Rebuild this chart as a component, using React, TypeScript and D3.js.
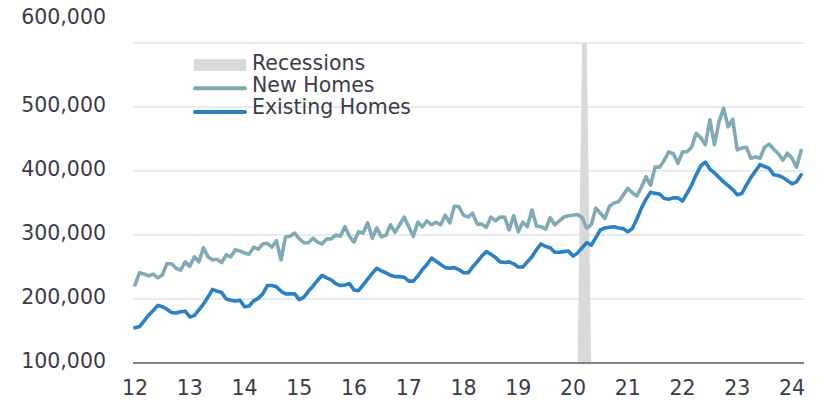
import React from "react";
import * as d3 from "d3";

const START_YEAR = 2012;
const yearTicks = [2012, 2013, 2014, 2015, 2016, 2017, 2018, 2019, 2020, 2021, 2022, 2023, 2024];
const yTicks = [100000, 200000, 300000, 400000, 500000, 600000];

// Monthly values (thousands), Jan 2012 .. Mar 2024
const newHomes = [
  222, 241, 239, 236, 239, 233, 238, 255, 255, 248, 245, 258,
  251, 266, 258, 280, 266, 261, 262, 257, 269, 266, 277, 275,
  272, 270, 281, 278, 286, 287, 281, 291, 261, 297, 298, 303,
  294, 288, 288, 295, 289, 286, 294, 294, 300, 298, 313, 298,
  289, 305, 303, 319, 295, 311, 297, 300, 316, 304, 316, 328,
  313, 298, 320, 313, 322, 316, 320, 316, 331, 319, 345, 344,
  331, 328, 334, 317, 317, 312, 328, 322, 328, 328, 308, 330,
  305, 320, 313, 339, 314, 313, 309, 327, 316, 322, 328, 330,
  331, 332, 327, 311, 316, 342, 334, 326, 345, 350, 352, 362,
  373, 366, 361, 375, 391, 378, 406, 406, 417, 430, 427, 412,
  430, 430, 437, 459, 452, 441, 480, 441, 477, 498, 469, 481,
  433, 436, 437, 420, 422, 420, 437, 442, 434, 427, 417, 428,
  420, 406, 432,
];

const existingHomes = [
  155, 157, 166, 175, 182, 190, 188, 184, 179, 178, 180, 181,
  172, 174, 183, 192, 203, 215, 212, 210, 200, 198, 197, 198,
  188, 189, 197, 201, 208, 221, 221, 219, 212, 208, 208, 208,
  199, 203, 212, 220, 229, 237, 233, 230, 224, 221, 222, 224,
  214, 213, 222, 231, 240, 248, 244, 241, 237, 235, 235, 234,
  228, 228, 236, 246, 254, 264, 259, 254, 249, 248, 249, 246,
  241, 241, 250, 258, 267, 274, 270, 265, 258, 257, 258, 255,
  250, 250, 258, 266, 277, 286, 282, 280, 273, 273, 274, 275,
  267, 272, 280, 288, 284, 296, 308, 311, 312, 313, 311, 310,
  305, 310, 325, 342, 356, 367, 365, 364, 357, 356, 358, 358,
  353, 365, 378, 394, 408, 414, 403, 397, 390, 383, 377, 371,
  363, 365, 378, 390, 400, 410, 407, 404, 394, 393, 390, 385,
  380, 383, 394,
];

// Recession indicator: month index (from Jan 2012) and on/off
const recessionMonths = [97, 98, 99, 100];
const recessionOn = [0, 1, 1, 0];

const legendLabels = ["Recessions", "New Homes", "Existing Homes"];

const W = 821;
const H = 402;
const FONT = "'DejaVu Sans', sans-serif";
const TEXT = "#3b3b48";
const C_NEW = "#80abb6";
const C_EX = "#2a81c6";
const C_REC = "#d9d9d9";
const C_GRID = "#dde4ec";

export default function App() {
  const x = d3.scaleLinear().domain([2012, 2024]).range([135, 792]);
  const y = d3.scaleLinear().domain([100000, 600000]).range([363, 43]);
  const mx = (i: number) => x(START_YEAR + i / 12);

  const line = d3
    .line<number>()
    .x((_, i) => mx(i))
    .y((v) => y(v * 1000));

  const recArea = d3
    .area<number>()
    .x((_, i) => mx(recessionMonths[i]))
    .y0(y(100000))
    .y1((v) => (v ? y(600000) : y(100000)));

  const [gx0, gx1] = [133, 804];

  return (
    <svg
      width={W}
      height={H}
      style={{ position: "absolute", left: 0, top: 0, background: "#fff" }}
      fontFamily={FONT}
    >
      {yTicks.slice(1).map((t) => (
        <line key={t} x1={gx0} x2={gx1} y1={y(t)} y2={y(t)} stroke={C_GRID} strokeWidth={1.6} />
      ))}
      <path d={recArea(recessionOn) || ""} fill={C_REC} />
      <line x1={gx0} x2={gx1} y1={y(100000)} y2={y(100000)} stroke="#5b5b66" strokeWidth={1.6} />
      <path d={line(newHomes) || ""} fill="none" stroke={C_NEW} strokeWidth={3.6} strokeLinejoin="round" strokeLinecap="round" />
      <path d={line(existingHomes) || ""} fill="none" stroke={C_EX} strokeWidth={3.6} strokeLinejoin="round" strokeLinecap="round" />
      {yTicks.map((t) => (
        <text
          key={t}
          x={106}
          y={t === 600000 ? 17 : y(t) - 2.5}
          textAnchor="end"
          dominantBaseline="central"
          fontSize={20.5}
          fill={TEXT}
        >
          {d3.format(",")(t)}
        </text>
      ))}
      {yearTicks.map((t) => (
        <text key={t} x={x(t)} y={388} textAnchor="middle" dominantBaseline="central" fontSize={20.5} fill={TEXT}>
          {String(t).slice(2)}
        </text>
      ))}
      <g>
        <rect x={194} y={59} width={52} height={12} fill={C_REC} />
        <line x1={195} x2={245} y1={88.3} y2={88.3} stroke={C_NEW} strokeWidth={4} strokeLinecap="round" />
        <line x1={195} x2={245} y1={112} y2={112} stroke={C_EX} strokeWidth={4} strokeLinecap="round" />
        {legendLabels.map((l, i) => (
          <text key={l} x={252} y={63 + i * 22} dominantBaseline="central" fontSize={20.5} fill={TEXT}>
            {l}
          </text>
        ))}
      </g>
    </svg>
  );
}
